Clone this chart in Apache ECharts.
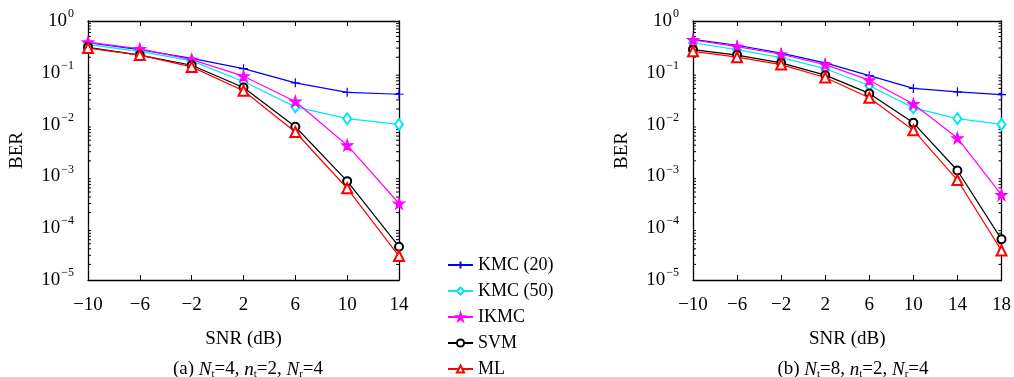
<!DOCTYPE html>
<html>
<head>
<meta charset="utf-8">
<script src="https://cdn.jsdelivr.net/npm/echarts@6/dist/echarts.min.js"></script>
<style>
  html, body { margin: 0; padding: 0; background: #fff; }
  #main { width: 1014px; height: 377px; }
</style>
</head>
<body>
<div id="main"></div>
<script>
// SNR points (dB) for the two panels
var snrA = [-10, -6, -2, 2, 6, 10, 14];
var snrB = [-10, -6, -2, 2, 6, 10, 14, 18];

// panel (a): Nt=4, nt=2, Nr=4
var kmc20A = [0.38, 0.28, 0.19, 0.12, 0.064, 0.042, 0.0385];
var kmc50A = [0.35, 0.26, 0.17, 0.068, 0.022, 0.013, 0.0101];
var ikmcA  = [0.39, 0.29, 0.18, 0.086, 0.028, 0.004, 0.0003];
var svmA   = [0.31, 0.22, 0.14, 0.052, 0.0091, 0.00081, 0.000044];
var mlA    = [0.30, 0.22, 0.13, 0.045, 0.0072, 0.00059, 0.000029];

// panel (b): Nt=8, nt=2, Nr=4
var kmc20B = [0.44, 0.34, 0.24, 0.155, 0.088, 0.05, 0.043, 0.038];
var kmc50B = [0.38, 0.28, 0.196, 0.12, 0.057, 0.021, 0.013, 0.0101];
var ikmcB  = [0.43, 0.32, 0.228, 0.144, 0.072, 0.025, 0.0055, 0.00044];
var svmB   = [0.28, 0.22, 0.155, 0.09, 0.04, 0.0108, 0.0013, 0.000061];
var mlB    = [0.26, 0.20, 0.144, 0.081, 0.033, 0.0078, 0.00085, 0.000037];

// minor tick values of the log axis (2..9 in each decade)
var minorVals = [];
for (var e = -5; e < 0; e++) {
  for (var m = 2; m <= 9; m++) minorVals.push(m * Math.pow(10, e));
}

var serif = 'Liberation Serif';
var minus = function (v) { return String(v).replace('-', '\u2212'); };

var chartDom = document.getElementById('main');
var myChart = echarts.init(chartDom);
var option;

var plusPath = 'path://M0,5L10,5M5,0L5,10';
var starPath = 'path://M50,0L61,35L98,35L68,57L79,91L50,70L21,91L32,57L2,35L39,35Z';

var styles = [
  { name: 'KMC (20)', color: '#0000ff', symbol: plusPath, size: 9 },
  { name: 'KMC (50)', color: '#00e8f0', symbol: 'emptyDiamond', size: [8, 11] },
  { name: 'IKMC', color: '#ff00ff', symbol: starPath, size: 11 },
  { name: 'SVM', color: '#000000', symbol: 'emptyCircle', size: 8 },
  { name: 'ML', color: '#ff0000', symbol: 'emptyTriangle', size: 10 }
];

function makeSeries(idx, lists) {
  return lists.map(function (d, i) {
    var s = styles[i];
    return {
      name: s.name,
      type: 'line',
      xAxisIndex: idx * 2,
      yAxisIndex: idx * 2,
      data: d,
      symbol: s.symbol,
      symbolSize: s.size,
      showAllSymbol: true,
      lineStyle: { color: s.color, width: 1.2 },
      itemStyle: { color: s.color, borderColor: s.color, borderWidth: 1.2 },
      z: 3 + i
    };
  });
}

// small ticks on both sides of the frame at the minor log values
function minorTickSeries(idx) {
  return {
    type: 'custom',
    xAxisIndex: idx * 2,
    yAxisIndex: idx * 2,
    silent: true,
    z: 1,
    data: minorVals.map(function (v) { return [0, v]; }),
    renderItem: function (params, api) {
      var cs = params.coordSys;
      var y = api.coord([0, api.value(1)])[1];
      var st = { stroke: '#000', lineWidth: 1 };
      return {
        type: 'group',
        children: [
          { type: 'line', shape: { x1: cs.x, y1: y, x2: cs.x + 3, y2: y }, style: st },
          { type: 'line', shape: { x1: cs.x + cs.width - 3, y1: y, x2: cs.x + cs.width, y2: y }, style: st }
        ]
      };
    }
  };
}

function yLabel(v) {
  var e = Math.round(Math.log10(v));
  return '{b|10}{s|' + minus(e) + '}';
}

function xAxes(gridIdx, cats) {
  return [
    {
      type: 'category', gridIndex: gridIdx, data: cats.map(minus), boundaryGap: false,
      name: 'SNR (dB)', nameLocation: 'middle', nameGap: 50,
      nameTextStyle: { fontFamily: serif, fontSize: 19, color: '#000' },
      axisLine: { lineStyle: { color: '#000', width: 1.3 } },
      axisTick: { inside: true, length: 5, lineStyle: { color: '#000', width: 1 } },
      axisLabel: { fontFamily: serif, fontSize: 19, color: '#000', margin: 16 },
      splitLine: { show: false }
    },
    {
      type: 'category', gridIndex: gridIdx, data: cats.map(minus), boundaryGap: false,
      position: 'top',
      axisLine: { lineStyle: { color: '#000', width: 1.3 } },
      axisTick: { inside: true, length: 5, lineStyle: { color: '#000', width: 1 } },
      axisLabel: { show: false },
      splitLine: { show: false }
    }
  ];
}

function yAxes(gridIdx) {
  var base = {
    type: 'log', logBase: 10, min: 1e-5, max: 1, gridIndex: gridIdx,
    axisLine: { show: true, lineStyle: { color: '#000', width: 1.3 } },
    axisTick: { inside: true, length: 6, lineStyle: { color: '#000', width: 1 } },
    splitLine: { show: false }
  };
  var left = Object.assign({}, base, {
    position: 'left',
    name: 'BER', nameLocation: 'middle', nameGap: 61, nameRotate: 90,
    nameTextStyle: { fontFamily: serif, fontSize: 19, color: '#000' },
    axisLabel: {
      formatter: yLabel, margin: 14,
      rich: {
        b: { fontFamily: serif, fontSize: 19, color: '#000' },
        s: { fontFamily: serif, fontSize: 12, color: '#000', padding: [0, 0, 14, 1] }
      }
    }
  });
  var right = Object.assign({}, base, { position: 'right', axisLabel: { show: false } });
  return [left, right];
}

function caption(text, x) {
  return {
    text: text,
    left: x, top: 354, textAlign: 'center',
    textStyle: {
      fontFamily: serif, fontSize: 19, fontWeight: 'normal', color: '#000',
      rich: {
        i: { fontFamily: serif, fontSize: 19, fontStyle: 'italic', color: '#000' },
        sub: { fontFamily: serif, fontSize: 11, color: '#000', padding: [10, 0, 0, 0] }
      }
    }
  };
}

option = {
  animation: false,
  backgroundColor: '#fff',
  grid: [
    { left: 88, top: 21, width: 311, height: 259 },
    { left: 693, top: 21, width: 311, height: 259 }
  ],
  title: [
    caption('(a) {i|N}{sub|t}=4, {i|n}{sub|t}=2, {i|N}{sub|r}=4', 243),
    caption('(b) {i|N}{sub|t}=8, {i|n}{sub|t}=2, {i|N}{sub|r}=4', 848)
  ],
  legend: {
    orient: 'vertical',
    left: 447, top: 256, height: 140, padding: 0,
    itemWidth: 25, itemHeight: 9, itemGap: 8,
    textStyle: { fontFamily: serif, fontSize: 18, color: '#000' },
    data: styles.map(function (s) { return s.name; })
  },
  xAxis: xAxes(0, snrA).concat(xAxes(1, snrB)),
  yAxis: yAxes(0).concat(yAxes(1)),
  series: makeSeries(0, [kmc20A, kmc50A, ikmcA, svmA, mlA])
    .concat(makeSeries(1, [kmc20B, kmc50B, ikmcB, svmB, mlB]))
    .concat([minorTickSeries(0), minorTickSeries(1)])
};

option && myChart.setOption(option);
</script>
</body>
</html>
